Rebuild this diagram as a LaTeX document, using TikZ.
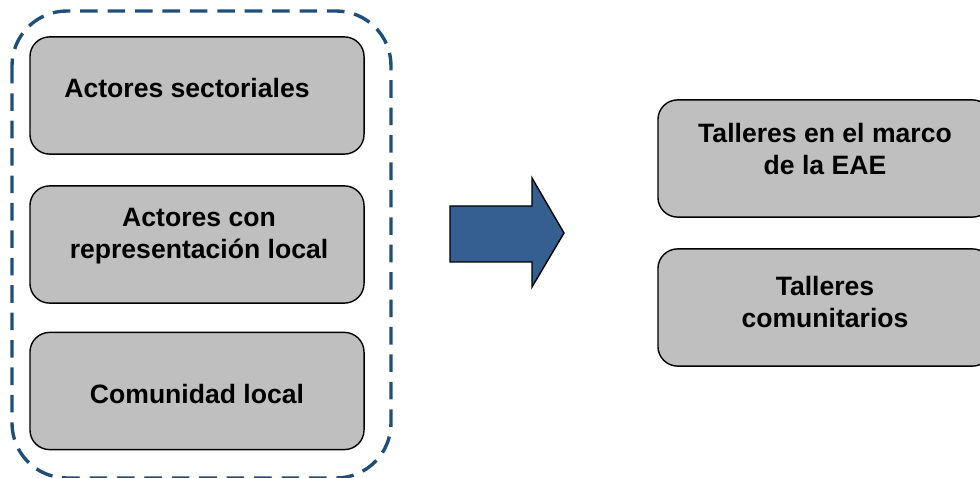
\documentclass[tikz,border=0pt]{standalone}
\usepackage{fontspec}
\setmainfont{Liberation Sans}
\usetikzlibrary{positioning}
\definecolor{BorderBlue}{HTML}{1F4E79}
\definecolor{ArrowBlue}{HTML}{365F91}
\definecolor{BoxGray}{HTML}{BFBFBF}

\begin{document}
\begin{tikzpicture}[x=0.025cm, y=-0.025cm,
    caja/.style={draw=black, line width=1pt, fill=BoxGray, rounded corners=14pt,
                 minimum width=8.35cm, minimum height=2.93cm},
    texto/.style={font=\bfseries\fontsize{18.9}{22.8}\selectfont, align=center}]
        % Canvas
        \useasboundingbox (0,0) rectangle (980,478);

        % 1. Dashed group on the left
        \draw[BorderBlue, line width=2.4pt, dash pattern=on 12.5pt off 7pt,
              rounded corners=39pt] (12,11) rectangle (391,478);

        % 2. Left boxes
        \node[caja] (sect) at (197,95.5) {};
        \node[caja] (repr) at (197,244.5) {};
        \node[caja] (comu) at (197,391) {};

        \node[texto] (sectTxt) at (187,88) {Actores sectoriales};
        \node[texto] (reprTxt) at (199,236.5) {Actores con\\representación local};
        \node[texto] (comuTxt) at (197,394) {Comunidad local};

        % 3. Block arrow
        \draw[fill=ArrowBlue, line width=1pt, line join=miter]
            (450,206) -- (532,206) -- (532,178) -- (564,233) -- (532,287)
            -- (532,262) -- (450,262) -- cycle;

        % 4. Right boxes
        \node[caja] (eae) at (825,158.5) {};
        \node[caja] (comTall) at (825,307.5) {};

        \node[texto] (eaeTxt) at (825,149) {Talleres en el marco\\de la EAE};
        \node[texto] (comTallTxt) at (825,302) {Talleres\\comunitarios};

    \end{tikzpicture}
\end{document}
